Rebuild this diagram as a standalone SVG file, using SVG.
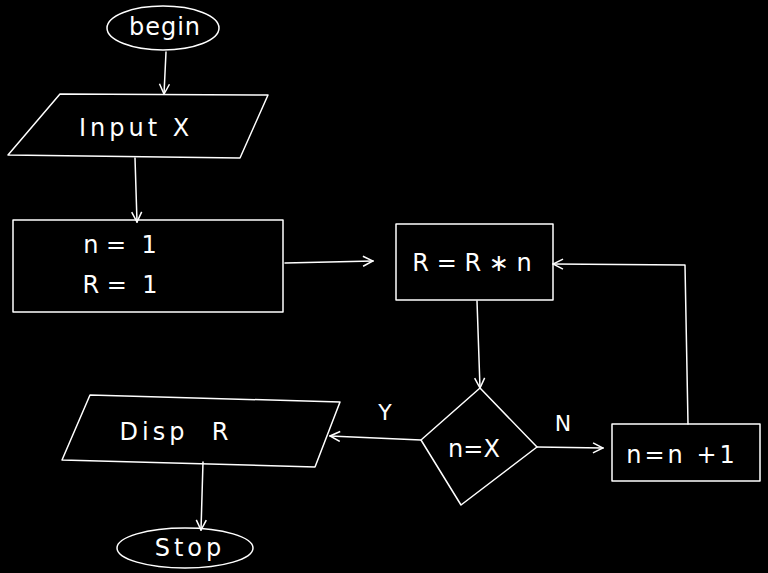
<svg xmlns="http://www.w3.org/2000/svg" width="768" height="573" viewBox="0 0 768 573">
<defs>
<style>
.s{fill:none;stroke:#fff;stroke-width:1.5;stroke-linejoin:round;stroke-linecap:round}
.t{fill:#fff;font-family:"DejaVu Sans","Liberation Sans",sans-serif;font-size:24px;font-weight:normal;text-anchor:middle;dominant-baseline:central}
.w{letter-spacing:4px}
.l{fill:#fff;font-family:"DejaVu Sans","Liberation Sans",sans-serif;font-size:22px;text-anchor:middle;dominant-baseline:central}
</style>
<marker id="a" viewBox="0 0 12 12" refX="11" refY="6" markerWidth="12" markerHeight="12" markerUnits="userSpaceOnUse" orient="auto">
<polyline points="1,1 11,6 1,11" fill="none" stroke="#fff" stroke-width="1.5"/>
</marker>
</defs>
<rect width="768" height="573" fill="#000"/>
<g id="connectors">
<polyline class="s" points="166,52 164,94" marker-end="url(#a)"/>
<polyline class="s" points="135,158 137,222" marker-end="url(#a)"/>
<polyline class="s" points="285,263 373,261" marker-end="url(#a)"/>
<polyline class="s" points="477,301 478,330 480,388" marker-end="url(#a)"/>
<polyline class="s" points="421,440 330,436" marker-end="url(#a)"/>
<polyline class="s" points="537,447 603,448" marker-end="url(#a)"/>
<polyline class="s" points="688,424 685,265 553,264" marker-end="url(#a)"/>
<polyline class="s" points="203,462 201,530" marker-end="url(#a)"/>
<text class="l" x="385" y="412">Y</text>
<text class="l" x="563" y="423">N</text>
</g>
<g id="begin">
<ellipse class="s" cx="163" cy="28" rx="56" ry="22"/>
<text class="t" x="165" y="27" style="letter-spacing:1px">begin</text>
</g>
<g id="input">
<polygon class="s" points="60,94 268,95 240,158 8,155"/>
<text class="t w" x="136" y="128">Input X</text>
</g>
<g id="init">
<rect class="s" x="13" y="220" width="270" height="92"/>
<text class="t" x="120" y="245" xml:space="preserve">n =  1</text>
<text class="t" x="120" y="285" xml:space="preserve">R =  1</text>
</g>
<g id="mult">
<rect class="s" x="396" y="224" width="157" height="76"/>
<text class="t" x="472" y="263">R = R ∗ n</text>
</g>
<g id="decision">
<polygon class="s" points="480,388 537,447 461,505 421,440"/>
<text class="t" x="474" y="449">n=X</text>
</g>
<g id="incr">
<rect class="s" x="612" y="424" width="148" height="57"/>
<text class="t" x="682" y="455" style="letter-spacing:3px">n=n +1</text>
</g>
<g id="disp">
<polygon class="s" points="90,395 340,402 315,467 62,460"/>
<text class="t w" x="176" y="432" xml:space="preserve">Disp  R</text>
</g>
<g id="stop">
<ellipse class="s" cx="185" cy="548" rx="68" ry="20"/>
<text class="t w" x="190" y="548">Stop</text>
</g>
</svg>
